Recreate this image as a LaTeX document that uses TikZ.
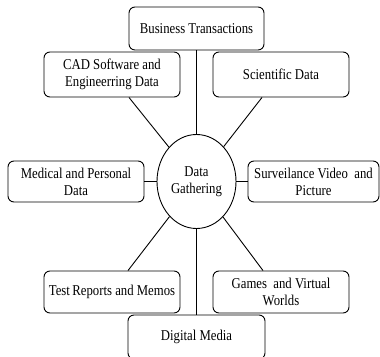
\documentclass[tikz,border=0pt]{standalone}
\usepackage{fontspec}
\setmainfont{Liberation Serif}[FakeStretch=0.85]
\usetikzlibrary{shapes.geometric,calc}
\tikzset{
  src/.style={draw, rounded corners=6pt, line width=0.9pt, align=center,
    inner sep=0pt, minimum width=136pt, minimum height=44pt,
    font=\fontsize{15}{17}\selectfont},
  hub/.style={draw, ellipse, line width=0.9pt, align=center, inner sep=0pt,
    minimum width=79pt, minimum height=94pt, font=\fontsize{15}{17}\selectfont},
  link/.style={line width=0.9pt}
}
\begin{document}
\begin{tikzpicture}[x=1pt, y=-1pt]
  \useasboundingbox (0,0) rectangle (380,356);
  \clip (0,0) rectangle (380,356);
  \node[hub] (dg) at (196.5,181.5) {Data\\Gathering};
  \node[src, minimum width=135pt, minimum height=43pt] (bt) at (196.5,28.5) {Business Transactions};
  \node[src, minimum height=45pt] (cad) at (112,74.5) {CAD Software and\\Engineerring Data};
  \node[src, minimum height=45pt] (sci) at (281,74.5) {Scientific Data};
  \node[src, minimum height=41pt] (med) at (76,181.5) {Medical and Personal\\Data};
  \node[src, minimum width=131pt, minimum height=41pt] (sur) at (313.5,181.5) {Surveilance Video~ and\\Picture};
  \node[src, minimum height=42pt] (tst) at (112,292) {Test\kern2.5pt Reports and Memos};
  \node[src, minimum height=42pt] (gam) at (281,292) {Games~ and Virtual\\Worlds};
  \node[src, minimum width=137pt, minimum height=44pt] (dm) at (196.5,337) {Digital Media};
  \draw[link] (bt) -- (dg);
  \draw[link] (dm) -- (dg);
  \draw[link] (med) -- (dg);
  \draw[link] (sur) -- (dg);
  \draw[link] ($(cad.south)+(17,0)$) -- (dg);
  \draw[link] ($(sci.south)+(-19,0)$) -- (dg);
  \draw[link] ($(tst.north)+(16,0)$) -- (dg);
  \draw[link] ($(gam.north)+(-18,0)$) -- (dg);
\end{tikzpicture}
\end{document}
